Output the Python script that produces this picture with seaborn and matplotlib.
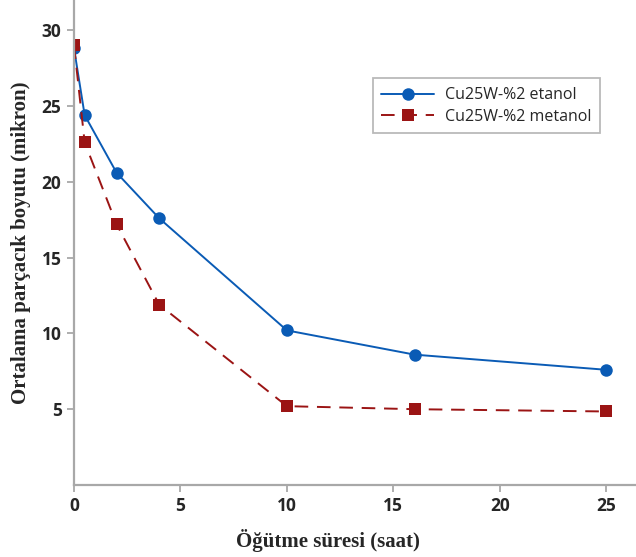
import pandas as pd
import seaborn as sns
import matplotlib.pyplot as plt

# Veriler
saat = [0, 0.5, 2, 4, 10, 16, 25]
etanol = [28.8, 24.4, 20.6, 17.6, 10.2, 8.6, 7.6]
metanol = [29.0, 22.6, 17.2, 11.9, 5.2, 5.0, 4.85]
seri_adlari = ["Cu25W-%2 etanol", "Cu25W-%2 metanol"]
x_ticks = [0, 5, 10, 15, 20, 25]
y_ticks = [5, 10, 15, 20, 25, 30]

df = pd.DataFrame({
    "saat": saat * 2,
    "boyut": etanol + metanol,
    "seri": [seri_adlari[0]] * len(saat) + [seri_adlari[1]] * len(saat),
})

sns.set_style("white")

fig = plt.figure(figsize=(6.36, 5.57), dpi=100)
ax = fig.add_axes([0.1164, 0.1293, 0.8836, 0.8707])

renkler = {seri_adlari[0]: "#0a5bb5", seri_adlari[1]: "#9b1414"}
sns.lineplot(
    data=df, x="saat", y="boyut", hue="seri", style="seri",
    palette=renkler, markers={seri_adlari[0]: "o", seri_adlari[1]: "s"},
    dashes={seri_adlari[0]: "", seri_adlari[1]: (7, 4.5)},
    markersize=9, markeredgewidth=0, linewidth=1.4, ax=ax,
)

ax.set_xlim(0, 26.4)
ax.set_ylim(0, 32)
ax.set_xticks(x_ticks)
ax.set_yticks(y_ticks)

for s in ["top", "right"]:
    ax.spines[s].set_visible(False)
for s in ["left", "bottom"]:
    ax.spines[s].set_color("#a8a8a8")
    ax.spines[s].set_linewidth(1.6)

ax.tick_params(axis="both", direction="out", length=5, width=1.3,
               color="#a8a8a8", labelsize=12.5, pad=4,
               bottom=True, left=True)
for lbl in ax.get_xticklabels() + ax.get_yticklabels():
    lbl.set_fontweight("bold")
    lbl.set_family("Open Sans")

ax.set_xlabel("Öğütme süresi (saat)", fontsize=15, fontweight="bold",
              family="Liberation Serif")
ax.xaxis.set_label_coords((328 - 74) / 562, -0.09)
ax.set_ylabel("Ortalama parçacık boyutu (mikron)", fontsize=15, fontweight="bold",
              family="Liberation Serif", labelpad=8)

leg = ax.legend(loc="upper right", bbox_to_anchor=(0.951, 0.855),
                prop={"family": "Open Sans", "size": 11.5},
                frameon=True, fancybox=False, edgecolor="#a8a8a8",
                handlelength=3.3, borderpad=0.55, labelspacing=0.35,
                handletextpad=0.7)
leg.get_frame().set_linewidth(1.3)

fig.savefig("out.png", dpi=100)
